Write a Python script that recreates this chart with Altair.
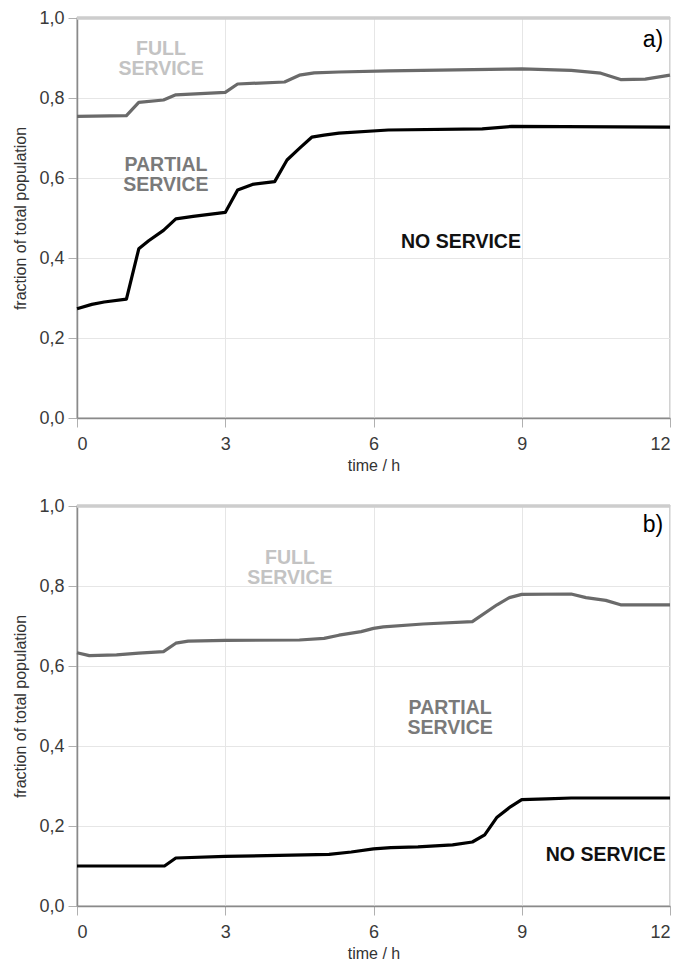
import altair as alt
import pandas as pd

# ---------------- data ----------------
# panel a)
A_UP_T = [0, 1.0, 1.25, 1.75, 2.0, 3.0, 3.25, 4.2, 4.5, 4.8, 5.3, 6.3, 8.7, 9.0, 10.0, 10.6, 11.0, 11.5, 12]
A_UP_V = [0.754, 0.756, 0.789, 0.795, 0.808, 0.814, 0.835, 0.840, 0.857, 0.863, 0.865, 0.868, 0.872, 0.873, 0.869, 0.862, 0.846, 0.847, 0.857]
A_LO_T = [0, 0.3, 0.55, 1.0, 1.25, 1.45, 1.75, 2.0, 2.35, 3.0, 3.25, 3.55, 4.0, 4.25, 4.5, 4.75, 5.0, 5.3, 6.3, 8.2, 8.8, 12]
A_LO_V = [0.273, 0.284, 0.290, 0.297, 0.423, 0.443, 0.469, 0.498, 0.504, 0.514, 0.570, 0.584, 0.591, 0.645, 0.674, 0.702, 0.707, 0.712, 0.720, 0.723, 0.729, 0.727]

# panel b)
B_UP_T = [0, 0.25, 0.8, 1.25, 1.75, 2.0, 2.25, 3.0, 4.5, 5.0, 5.3, 5.75, 6.0, 6.2, 7.0, 8.0, 8.5, 8.75, 9.0, 10.0, 10.3, 10.7, 11.0, 12]
B_UP_V = [0.633, 0.626, 0.628, 0.632, 0.636, 0.657, 0.662, 0.664, 0.665, 0.669, 0.677, 0.686, 0.694, 0.698, 0.705, 0.711, 0.753, 0.771, 0.779, 0.780, 0.771, 0.764, 0.753, 0.753]
B_LO_T = [0, 1.77, 2.0, 3.0, 4.6, 5.1, 5.55, 6.0, 6.35, 6.9, 7.6, 8.0, 8.25, 8.5, 8.77, 9.0, 9.5, 10.0, 12]
B_LO_V = [0.100, 0.100, 0.120, 0.124, 0.128, 0.129, 0.135, 0.143, 0.146, 0.148, 0.153, 0.160, 0.178, 0.222, 0.248, 0.266, 0.268, 0.270, 0.270]

TOTAL_V = [1.0]
X_TICKS = [0, 3, 6, 9, 12]
Y_TICKS = [0.0, 0.2, 0.4, 0.6, 0.8, 1.0]

# annotation positions in data units: (t, v)
A_FULL = (1.70, 0.923)
A_PART = (1.80, 0.633)
A_NONE = (7.77, 0.440)
A_TAG = (11.86, 0.928)
B_FULL = (4.31, 0.870)
B_PART = (7.55, 0.496)
B_NONE = (10.70, 0.127)
B_TAG = (11.86, 0.935)

FULL_TXT = ["FULL", "SERVICE"]
PART_TXT = ["PARTIAL", "SERVICE"]
NONE_TXT = "NO SERVICE"

FONT = "Liberation Sans"
W, H = 593, 400


def panel(up_t, up_v, lo_t, lo_v, full, part, none, tag, tag_txt):
    lines = pd.DataFrame(
        {"t": list(up_t) + list(lo_t),
         "v": list(up_v) + list(lo_v),
         "s": ["upper"] * len(up_t) + ["lower"] * len(lo_t)}
    )
    xs = alt.Scale(domain=[0, 12], nice=False)
    ys = alt.Scale(domain=[0, 1], nice=False)
    xax = alt.Axis(values=X_TICKS, format="d", title="time / h")
    yax = alt.Axis(values=Y_TICKS, title="fraction of total population",
                   labelExpr="replace(format(datum.value, '.1f'), '.', ',')")

    base_line = alt.Chart(lines).mark_line(strokeWidth=3.2, strokeJoin="round").encode(
        x=alt.X("t:Q", scale=xs, axis=xax),
        y=alt.Y("v:Q", scale=ys, axis=yax),
        detail="s:N",
        color=alt.Color("s:N", scale=alt.Scale(domain=["upper", "lower"],
                                               range=["#6a6a6a", "#000000"]), legend=None),
    )
    top = alt.Chart(pd.DataFrame({"v": TOTAL_V})).mark_rule(
        color="#cdcdcd", strokeWidth=3.5).encode(y=alt.Y("v:Q", scale=ys))

    def txt(pos, text, color, size=19.5, bold=True, align="center", baseline="middle"):
        df = pd.DataFrame({"t": [pos[0]], "v": [pos[1]], "txt": [text]})
        return alt.Chart(df).mark_text(
            font=FONT, fontSize=size, fontWeight="bold" if bold else "normal",
            color=color, align=align, baseline=baseline, lineHeight=20,
        ).encode(x=alt.X("t:Q", scale=xs), y=alt.Y("v:Q", scale=ys), text="txt")

    full_t = txt(full, FULL_TXT, "#c3c3c3")
    part_t = txt(part, PART_TXT, "#7a7a7a")
    none_t = txt(none, NONE_TXT, "#111111")
    tag_t = txt(tag, tag_txt, "#000000", size=23, bold=False, align="right", baseline="alphabetic")

    return alt.layer(top, base_line, full_t, part_t, none_t, tag_t).properties(width=W, height=H)


pa = panel(A_UP_T, A_UP_V, A_LO_T, A_LO_V, A_FULL, A_PART, A_NONE, A_TAG, "a)")
pb = panel(B_UP_T, B_UP_V, B_LO_T, B_LO_V, B_FULL, B_PART, B_NONE, B_TAG, "b)")

chart = alt.vconcat(pa, pb, spacing=22).properties(
    padding={"left": 4, "top": 0, "right": 0, "bottom": 0}
).configure(font=FONT).configure_view(
    stroke="#c4c4c4", strokeWidth=1.5
).configure_axis(
    labelFont=FONT, titleFont=FONT, labelFontSize=18, titleFontSize=16,
    labelColor="#3a3a3a", titleColor="#333333", titleFontWeight="normal",
    domainColor="#8a8a8a", domainWidth=1.5, tickColor="#b0b0b0", tickSize=9,
    gridColor="#e6e6e6", gridWidth=1,
).configure_axisY(
    labelPadding=4, titlePadding=10,
).configure_axisX(
    labelPadding=8, titlePadding=4,
)

chart.save("out.html", embed_options={"renderer": "svg", "actions": False})
